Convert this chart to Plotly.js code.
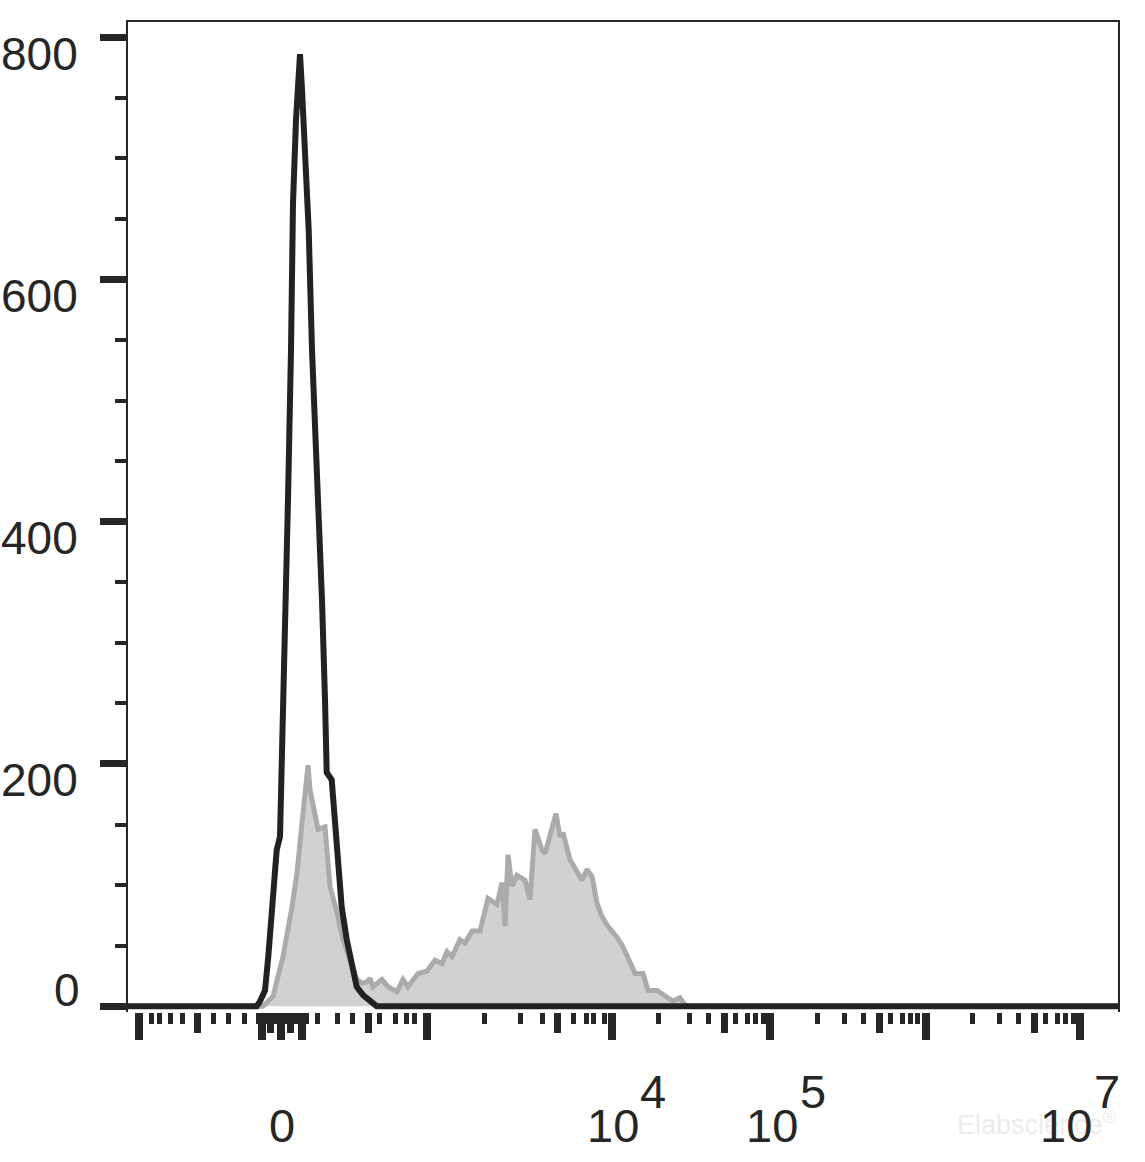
<!DOCTYPE html>
<html>
<head>
<meta charset="utf-8">
<script src="https://cdn.plot.ly/plotly-3.0.1.min.js"></script>
<style>html,body{margin:0;padding:0;background:#fff;}#chart{width:1145px;height:1162px;}</style>
</head>
<body>
<div id="chart"></div>
<script>
// Channel positions (display units) of the biexponential x scale
var xRange = [128, 1118];
var yRange = [-4.8, 812.6];

// Unstained control (black outline)
var blackX = [128, 256.7, 260, 265, 268.3, 271.7, 276.7, 280, 281.7, 283.3, 284, 286, 288, 291, 293, 296, 300, 302, 304, 306, 308.7, 312, 315, 318, 322, 325, 326.7, 326.7, 331.7, 335, 338.3, 341.7, 346.7, 351.7, 356.7, 363.3, 370, 376.7, 1118];
var blackY = [0, 0, 4, 13, 41, 82, 129, 140, 198, 220, 253, 335, 418, 542, 663, 732, 786, 757, 726, 682, 641, 542, 484, 418, 335, 253, 220, 193, 187, 151, 110, 82, 55, 33, 16, 9, 5, 0, 0];

// Stained sample (grey filled)
var greyX = [128, 263, 273, 283, 292, 297, 302, 305, 308, 310, 313, 318, 325, 327, 330, 337, 343, 350, 357, 362, 367, 370, 373, 382, 388, 397, 403, 408, 418, 427, 435, 442, 447, 452, 460, 465, 472, 480, 488, 497, 502, 505, 508, 512, 517, 525, 530, 535, 542, 545, 550, 556, 560, 563, 570, 577, 582, 587, 592, 597, 602, 608, 617, 623, 630, 635, 643, 648, 657, 667, 673, 680, 685, 690, 1118];
var greyY = [0, 0, 8, 41, 82, 110, 151, 179, 199, 179, 165, 146, 148, 129, 99, 77, 55, 38, 22, 19, 20, 23, 16, 22, 16, 12, 22, 16, 27, 29, 38, 35, 45, 41, 55, 52, 62, 62, 89, 84, 102, 66, 125, 99, 108, 104, 88, 146, 129, 126, 140, 159, 140, 143, 121, 110, 104, 113, 107, 85, 74, 66, 57, 49, 35, 27, 27, 13, 13, 8, 4, 7, 1, 0, 0];

// X tick positions
var xLongTicks = [139, 262, 281, 302, 426.5, 612, 770, 925.5, 1080];
var xMediumTicks = [197.5, 270, 290, 368.5, 557.5, 724.5, 879, 1034];
var xShortTicks = [151, 159.5, 170, 182.5, 213.5, 228, 244.5, 258.5, 266, 274, 278, 285, 294, 298, 306, 317.5, 337.5, 352.5, 379.5, 395.5, 406.5, 414.5, 484.5, 520, 542.5, 573.5, 586, 593.5, 604.5, 658.5, 689, 708.5, 735.5, 747.5, 755.5, 763.5, 817.5, 844.5, 863, 890.5, 902, 910.5, 917, 972, 999.5, 1018.5, 1045.5, 1057.5, 1065.5, 1073];

// X tick labels
var xLabelPos = [282, 612.5, 771.5, 1065.5];
var xLabelBase = ["0", "10", "10", "10"];
var xLabelExpPos = [null, 653, 812.5, 1106.5];
var xLabelExp = ["", "4", "5", "7"];

// Y ticks
var yMajorTicks = [0, 200, 400, 600, 800];
var yTickLabels = ["0", "200", "400", "600", "800"];

var ink = '#262626';
var fontFam = 'Arial, "Liberation Sans", sans-serif';

var traces = [
  {x: greyX, y: greyY, type: 'scatter', mode: 'lines', fill: 'tozeroy',
   fillcolor: '#d1d1d1', line: {color: '#ababab', width: 5}, hoverinfo: 'skip', showlegend: false},
  {x: blackX, y: blackY, type: 'scatter', mode: 'lines',
   line: {color: '#222222', width: 6}, hoverinfo: 'skip', showlegend: false},
  {x: [], y: [], type: 'scatter', mode: 'lines', xaxis: 'x2', yaxis: 'y', showlegend: false, hoverinfo: 'skip'},
  {x: [], y: [], type: 'scatter', mode: 'lines', xaxis: 'x3', yaxis: 'y', showlegend: false, hoverinfo: 'skip'}
];

var annotations = [];
// watermark
annotations.push({xref: 'paper', yref: 'paper', x: (1037 - 128) / 990, y: (1012 - 1123) / 990,
  xanchor: 'center', yanchor: 'middle', text: 'Elabscience<sup>®</sup>', showarrow: false,
  font: {family: fontFam, size: 27, color: '#ececec'}});

for (var i = 0; i < yMajorTicks.length; i++) {
  var v = yMajorTicks[i];
  annotations.push({xref: 'paper', yref: 'y', x: v === 0 ? (82 - 128) / 990 : (80 - 128) / 990, y: v,
    xanchor: 'right', yanchor: 'middle', yshift: v === 0 ? 16.5 : -16.5,
    text: yTickLabels[i], showarrow: false, font: {family: fontFam, size: 46, color: ink}});
}
for (var j = 0; j < xLabelPos.length; j++) {
  annotations.push({xref: 'x', yref: 'paper', x: xLabelPos[j], y: (1012 - 1125) / 990,
    xanchor: 'center', yanchor: 'middle', text: xLabelBase[j], showarrow: false,
    font: {family: fontFam, size: 47, color: ink}});
  if (xLabelExp[j]) {
    annotations.push({xref: 'x', yref: 'paper', x: xLabelExpPos[j], y: (1012 - 1091.5) / 990,
      xanchor: 'center', yanchor: 'middle', text: xLabelExp[j], showarrow: false,
      font: {family: fontFam, size: 47, color: ink}});
  }
}

var layout = {
  width: 1145, height: 1162,
  margin: {l: 128, r: 27, t: 22, b: 150, pad: 0},
  paper_bgcolor: '#ffffff', plot_bgcolor: '#ffffff',
  showlegend: false,
  xaxis: {
    range: xRange, showgrid: false, zeroline: false, showline: false,
    tickmode: 'array', tickvals: xLongTicks, ticks: 'outside', ticklen: 27, tickwidth: 8,
    tickcolor: ink, showticklabels: false, fixedrange: true,
    minor: {tickmode: 'array', tickvals: xMediumTicks, ticks: 'outside', ticklen: 20, tickwidth: 7, tickcolor: ink, showgrid: false}
  },
  xaxis2: {
    range: xRange, overlaying: 'x', anchor: 'y', side: 'bottom', showgrid: false, zeroline: false, showline: false,
    tickmode: 'array', tickvals: xShortTicks, ticks: 'outside', ticklen: 11, tickwidth: 5,
    tickcolor: ink, showticklabels: false, fixedrange: true
  },
  xaxis3: {
    range: xRange, overlaying: 'x', anchor: 'y', side: 'top', showgrid: false, zeroline: false,
    showline: true, linewidth: 2, linecolor: ink, ticks: '', showticklabels: false, fixedrange: true
  },
  yaxis: {
    range: yRange, showgrid: false, zeroline: false, showline: true, mirror: true,
    linewidth: 2, linecolor: ink,
    tickmode: 'array', tickvals: yMajorTicks, ticks: 'outside', ticklen: 26, tickwidth: 7,
    tickcolor: ink, showticklabels: false, fixedrange: true,
    minor: {dtick: 50, tick0: 0, ticks: 'outside', ticklen: 11, tickwidth: 4, tickcolor: ink, showgrid: false}
  },
  annotations: annotations
};

Plotly.newPlot('chart', traces, layout, {staticPlot: true, displayModeBar: false});
</script>
</body>
</html>
